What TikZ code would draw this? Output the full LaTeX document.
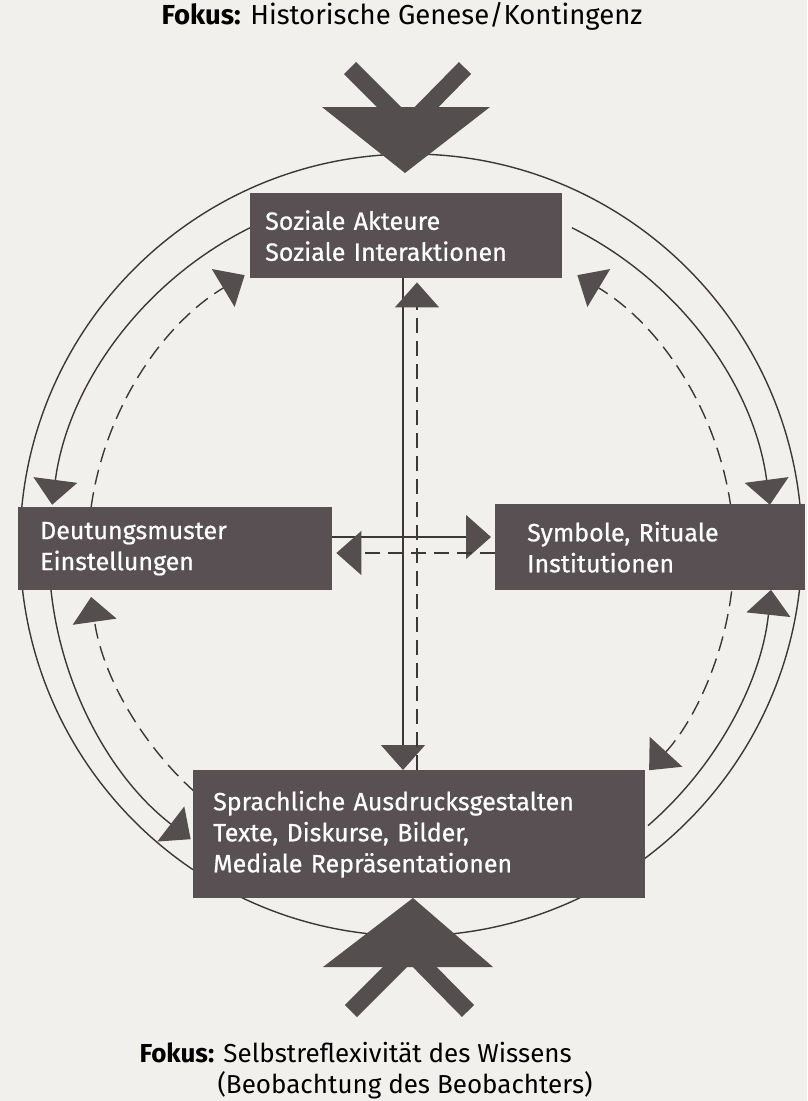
\documentclass[tikz,border=0pt]{standalone}
\usepackage{fontspec}
\setmainfont{Fira Sans}
\newfontfamily\boxfont{Fira Sans}[FakeBold=0.7]
\usetikzlibrary{arrows.meta,calc}
\pgfdeclarelayer{bg}
\pgfsetlayers{bg,main}
\definecolor{paper}{RGB}{242,240,236}
\definecolor{boxfill}{RGB}{88,80,82}
\definecolor{ink}{RGB}{60,56,56}
\definecolor{headfill}{RGB}{84,78,78}
\begin{document}
\begin{tikzpicture}[x=1pt,y=-1pt,
  box/.style={fill=boxfill,text=white,anchor=north west,inner ysep=0pt,align=left,
    font=\boxfont\fontsize{25}{31}\selectfont},
  solidln/.style={draw=ink,line width=1.4pt},
  dashln/.style={draw=ink,line width=1.4pt,dash pattern=on 15pt off 8pt},
  tip/.tip={Triangle[width=44pt,length=25pt,color=headfill]},
  bigarrow/.style={fill=headfill},
  bar/.style={draw=headfill,line width=17pt},
  caption/.style={font=\fontsize{26}{32}\selectfont,text=black}
]
\useasboundingbox (0,0) rectangle (807,1101);

% boxes
\node[box,inner xsep=15pt,text width=282pt,minimum height=85pt] (top) at (250,193)
  {Soziale Akteure\\Soziale Interaktionen};
\node[box,inner xsep=22pt,text width=270pt,minimum height=83pt] (left) at (18,507)
  {Deutungsmuster\\Einstellungen};
\node[box,inner xsep=32pt,text width=246pt,minimum height=86pt] (right) at (495,504)
  {Symbole, Rituale\\Institutionen};
\node[box,inner xsep=20pt,text width=412pt,minimum height=128pt] (bot) at (193,770)
  {Sprachliche Ausdrucksgestalten\\Texte, Diskurse, Bilder,\\Mediale Repr\"asentationen};

% captions
\node[caption,anchor=base,font=\fontsize{27.5}{32}\selectfont] (tcap) at (402,24) {\textbf{Fokus:} Historische Genese/Kontingenz};
\node[caption,anchor=base west] (bcap1) at (136,1062) {\textbf{Fokus:} Selbstreflexivit\"at des Wissens};
\node[caption,anchor=base west] (bcap2) at (214,1093) {(Beobachtung des Beobachters)};

\coordinate (c) at (411,552);
\coordinate (co) at (411,545);
\coordinate (vs) at (403,0);
\coordinate (vd) at (417,0);
\coordinate (hs) at (0,537);
\coordinate (hd) at (0,553);

\begin{pgfonlayer}{bg}
  \fill[paper] (0,0) rectangle (807,1101);
  % outer circle
  \draw[solidln] (co) circle[radius=391];
  % inner solid arcs
  \draw[solidln,-{tip}] ($(c)+(-116.4:362)$) arc[start angle=-116.4,end angle=-172.5,radius=362];
  \draw[solidln,-{tip}] ($(c)+(-63.6:362)$) arc[start angle=-63.6,end angle=-7.5,radius=362];
  \draw[solidln,-{tip}] ($(c)+(-186:362)$) arc[start angle=-186,end angle=-232.5,radius=362];
  \draw[solidln,-{tip}] ($(c)+(49.1:362)$) arc[start angle=49.1,end angle=6,radius=362];
  % dashed arcs
  \draw[dashln,-{tip}] ($(c)+(-172:323)$) arc[start angle=-172,end angle=-121,radius=323];
  \draw[dashln,-{tip}] ($(c)+(-8:323)$) arc[start angle=-8,end angle=-59,radius=323];
  \draw[dashln,-{tip}] ($(c)+(-228:323)$) arc[start angle=-228,end angle=-188,radius=323];
  \draw[dashln,-{tip}] ($(c)+(7:323)$) arc[start angle=7,end angle=42.5,radius=323];
  % centre connectors
  \draw[solidln,-{tip}] (top.south -| vs) -- (bot.north -| vs);
  \draw[dashln,-{tip}] (bot.north -| vd) -- ($(top.south -| vd)+(0,4)$);
  \draw[solidln,-{tip}] (left.east |- hs) -- ($(right.west |- hs)+(-4,0)$);
  \draw[dashln,-{tip}] (right.west |- hd) -- ($(left.east |- hd)+(4,0)$);
  % big focus arrows
  \fill[bigarrow] (322,107) -- (490,107) -- (405,173) -- cycle;
  \draw[bar] (350,68) -- (408,126);
  \draw[bar] (465,68) -- (408,126);
  \fill[bigarrow] (323,967) -- (493,967) -- (413,898) -- cycle;
  \draw[bar] (351,1011) -- (410,952);
  \draw[bar] (468,1011) -- (410,952);
\end{pgfonlayer}
\end{tikzpicture}
\end{document}
